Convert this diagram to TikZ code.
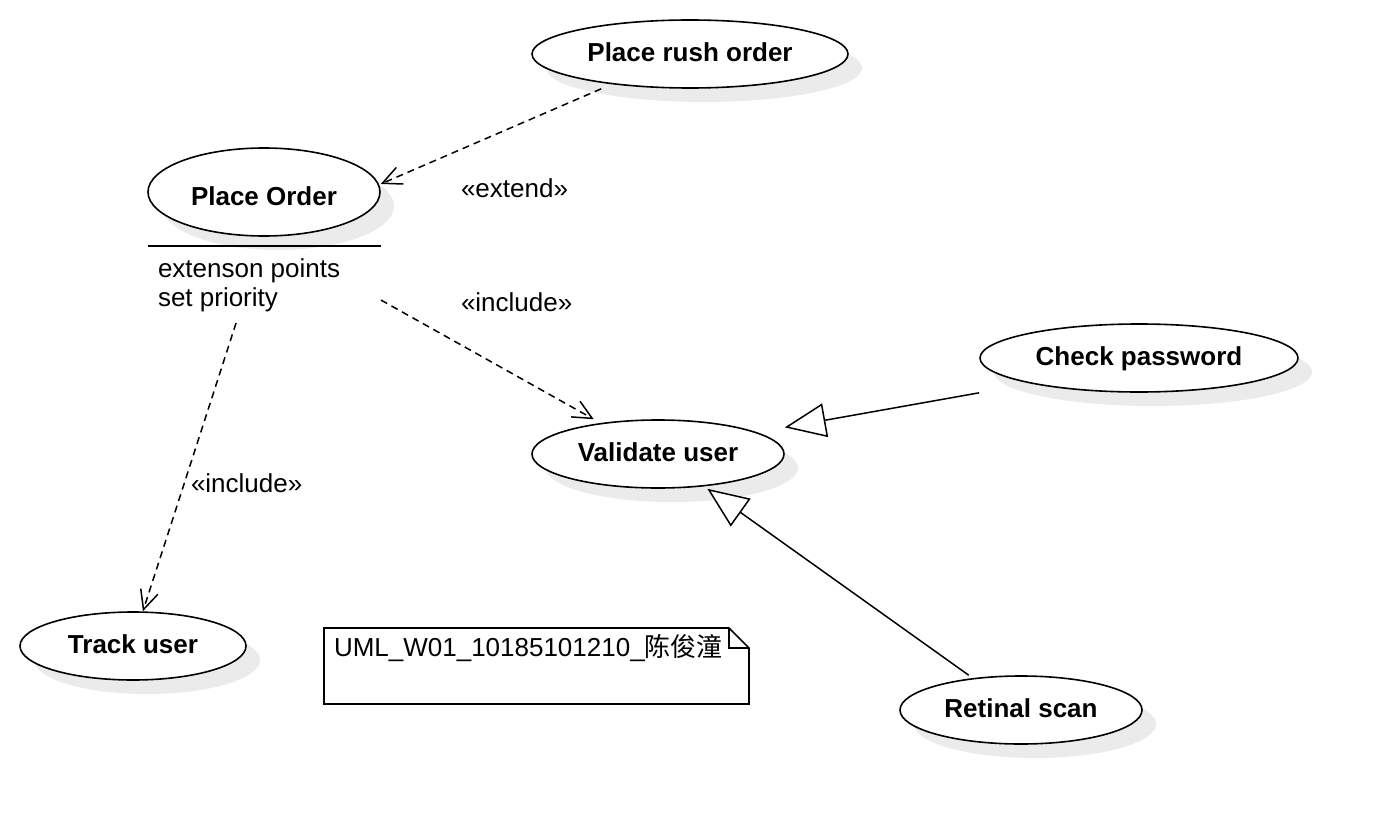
\documentclass[tikz,border=0pt]{standalone}
\usepackage{fontspec}
\setmainfont{Liberation Sans}
\newfontfamily\cjk{Noto Sans CJK SC}
\usetikzlibrary{shapes.geometric,arrows.meta,shadows,calc}
\begin{document}
\begin{tikzpicture}[x=1pt,y=-1pt,
  txt/.style={font=\fontsize{26}{30}\selectfont,inner sep=0pt,outer sep=0pt},
  uc/.style={ellipse,draw,line width=1.6pt,fill=white,inner sep=0pt,
    font=\fontsize{26}{30}\selectfont\bfseries,text height=19pt,text depth=3.5pt,
    drop shadow={shadow xshift=14pt,shadow yshift=-14pt,fill=black!8,opacity=1}},
  dep/.style={line width=1.5pt,dash pattern=on 7pt off 5pt,
    -{Straight Barb[length=19pt,width=18pt,line width=1.5pt]}},
  gen/.style={line width=1.5pt,
    -{Triangle[length=41pt,width=34pt,fill=white,line width=1.5pt]}},
  notebox/.style={line width=1.6pt,line join=miter}
]
\useasboundingbox[fill=white] (0,0) rectangle (1378,824);

% use cases
\node[uc,minimum width=316pt,minimum height=68pt] (rush) at (690,54) {Place rush order};
\node[uc,minimum width=232pt,minimum height=88pt,text height=27pt,text depth=0pt] (po) at (264,192) {Place Order};
\node[uc,minimum width=318pt,minimum height=68pt] (check) at (1139,358) {Check password};
\node[uc,minimum width=252pt,minimum height=68pt] (valid) at (658,454) {Validate user};
\node[uc,minimum width=226pt,minimum height=68pt] (track) at (133,646) {Track user};
\node[uc,minimum width=242pt,minimum height=68pt] (retinal) at (1021,710) {Retinal scan};

% extension point compartment
\node[inner sep=0pt,outer sep=0pt,minimum width=233pt,minimum height=175pt] (pobox) at (264.5,235.5) {};
\draw[line width=1.6pt] (pobox.west |- 0,246) -- (pobox.east |- 0,246);
\node[txt,anchor=base west] (ext1) at (158,277) {extenson points};
\node[txt,anchor=base west] (ext2) at (158,306) {set priority};

% connectors
\draw[dep] (rush.198 |- rush.south) -- (po.east |- po.4);
\draw[dep] (pobox.-29) -- (valid.155 |- valid.north);
\draw[dep] (pobox.-108) -- (track.74 |- track.north);
\draw[gen] (check.west |- check.south) -- (valid.east |- valid.18);
\draw[gen] (retinal.149 |- retinal.north) -- (valid.-33 |- valid.south);

% labels
\node[txt,anchor=base west] (lext) at (461,197) {«extend»};
\node[txt,anchor=base west] (linc1) at (461,311) {«include»};
\node[txt,anchor=base west] (linc2) at (191,492) {«include»};

% note
\node[inner sep=0pt,outer sep=0pt,minimum width=425pt,minimum height=76pt] (note) at (536.5,666) {};
\draw[notebox] (note.north west) -- ($(note.north east)+(-20,0)$) -- ($(note.north east)+(0,20)$)
  -- (note.south east) -- (note.south west) -- cycle;
\draw[line width=1.2pt] ($(note.north east)+(-20,0)$) -- ($(note.north east)+(-20,20)$) -- ($(note.north east)+(0,20)$);
\node[txt,anchor=base west] (notetext) at (334,656) {UML\_W01\_10185101210\_{\cjk 陈俊潼}};
\end{tikzpicture}
\end{document}
